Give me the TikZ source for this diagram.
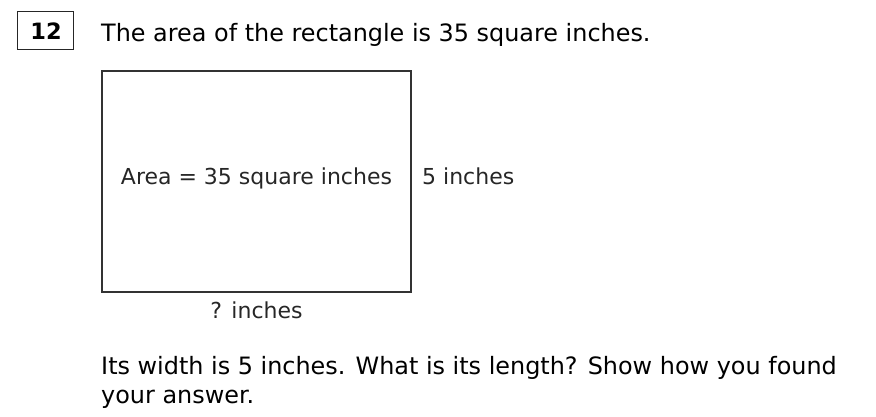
\documentclass[tikz,border=0pt]{standalone}
\usepackage{fontspec}
\setmainfont{DejaVu Sans}
\begin{document}
\begin{tikzpicture}[x=1pt,y=-1pt,
  qtext/.style={inner sep=0pt,anchor=base west,font=\fontsize{23.9}{29}\selectfont},
  lbl/.style={inner sep=0pt,font=\fontsize{22}{26}\selectfont,text=black!85},
  numbox/.style={draw=black!85,line width=1.4pt,minimum width=56pt,minimum height=38pt,inner sep=0pt}]
\useasboundingbox (0,0) rectangle (876,417);
\node[numbox] (num) at (45.5,30.5) {};
\node[inner sep=0pt,anchor=base,font=\fontsize{22.5}{26}\selectfont\bfseries] (numtxt) at (46,39.5) {12};
\node[qtext] (title) at (101,42) {The area of the rectangle is 35 square inches.};
\node[draw=black!80,line width=1.6pt,minimum width=309pt,minimum height=221pt,inner sep=0pt] (rect) at (256.5,181.5) {};
\node[lbl,anchor=base] (area) at (256.5,185) {Area = 35 square inches};
\node[lbl,anchor=base west] (side) at (422,185) {5 inches};
\node[lbl,anchor=base] (bottom) at (256.5,318) {? inches};
\node[qtext] (q1) at (101,374) {Its width is 5 inches. What is its length? Show how you found};
\node[qtext] (q2) at (101,403) {your answer.};
\end{tikzpicture}
\end{document}
